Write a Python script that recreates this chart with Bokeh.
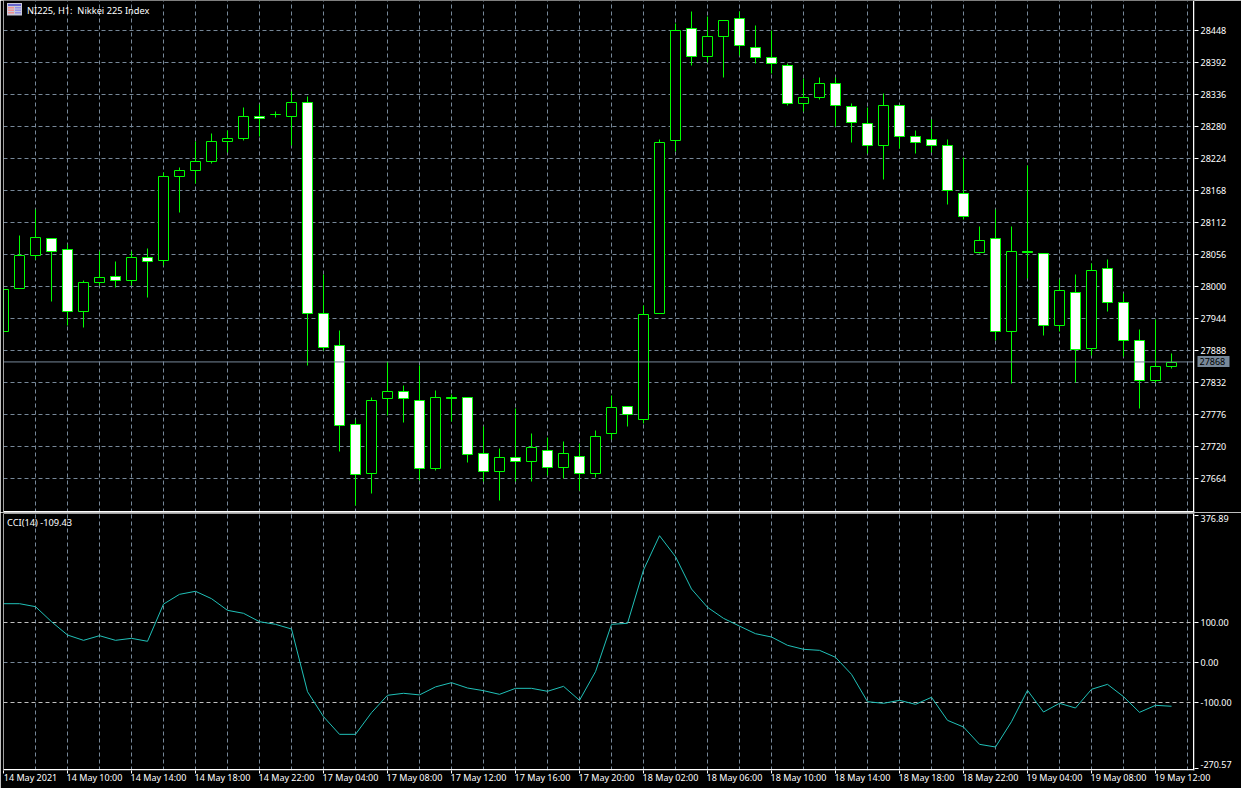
from bokeh.plotting import figure
from bokeh.layouts import column
from bokeh.models import (Range1d, LinearAxis, FixedTicker, Grid, Span, Label,
                          BoxAnnotation, ColumnDataSource)
from bokeh.embed import file_html
from bokeh.resources import INLINE

TITLE = "NI225, H1:\u00a0 Nikkei 225 Index"
CCI_TITLE = "CCI(14) -109.43"
LAST_PRICE = 27868

open_ = [27921.25,27996.5,28054.25,28084,28064.75,27956.25,28007,28017.5,28010.5,28050.75,
         28045.5,28192.5,28203,28218.75,28253.75,28259,28297.5,28301,28297.5,28322,
         27952.75,27896.75,27758.5,27672.75,27804,27816.25,27800.5,27681.5,27805.75,27805.75,
         27707.75,27676.25,27700.75,27693.75,27713,27683.25,27702.5,27672.75,27742.75,27790,
         27767.25,27952.75,28255.5,28451.5,28402.5,28437.5,28469,28418.25,28400.75,28386.75,
         28320.25,28330.75,28355.25,28315,28285.25,28246.75,28316.75,28262.5,28257.25,28246.75,
         28162.75,28059.5,28084,27921.25,28061.25,28057.75,27931.75,27989.5,27891.5,28031.5,
         27972,27905.5,27835.5,27860]
high = [27994.75,28089.25,28134.75,28084,28073.5,28010.5,28061.25,28043.75,28061.25,28066.5,
        28199.5,28208.25,28253.75,28267.75,28273,28313.25,28318.5,28306.25,28341.25,28332.5,
        28021,27923,27767.25,27805.75,27868.75,27826.75,27861.75,27818,27811,27805.75,
        27755,27716.5,27786.5,27742.75,27735.75,27728.75,27725.25,27748,27809.25,27790,
        27966.75,28257.25,28460.25,28481.25,28472.5,28465.5,28481.25,28456.75,28448,28390.25,
        28364,28365.75,28365.75,28320.25,28313.25,28337.75,28316.75,28273,28292.25,28257.25,
        28225.75,28105,28134.75,28105,28211.75,28057.75,28012.25,28021,28040.25,28047.25,
        27987.75,27924.75,27942.25,27882.75]
low = [27921.25,27996.5,28047.25,27973.75,27931.75,27928.25,28001.75,27998.25,28001.75,27980.75,
       28036.75,28129.5,28180.25,28215.25,28234.5,28255.5,28262.5,28295.75,28246.75,27861.75,
       27888,27711.25,27616.75,27637.75,27774.25,27762,27660.5,27678,27763.75,27692,
       27658.75,27625.5,27658.75,27658.75,27669.25,27664,27643,27665.75,27732.25,27755,
       27760.25,27952.75,28236.25,28386.75,28392,28365.75,28404.25,28390.25,28372.75,28316.75,
       28306.25,28327.25,28280,28252,28232.75,28187.25,28241.5,28232.75,28234.5,28143.5,
       28117.25,28057.75,27905.5,27830.25,28014,27914.25,27921.25,27832,27879.25,27956.25,
       27877.5,27786.5,27832,27856.5]
close = [27994.75,28054.25,28085.75,28061.25,27956.25,28007,28015.75,28010.5,28050.75,28043.75,
         28192.5,28203,28218.75,28253.75,28259,28297.5,28294,28301,28322,27952.75,
         27893.25,27756.75,27671,27800.5,27816.25,27804,27681.5,27805.75,27804,27706,
         27676.25,27700.75,27693.75,27718.25,27683.25,27707.75,27672.75,27737.5,27788.25,27776,
         27951,28252,28448,28402.5,28437.5,28465.5,28421.75,28400.75,28390.25,28320.25,
         28330.75,28355.25,28316.75,28287,28246.75,28316.75,28262.5,28252,28246.75,28168,
         28122.5,28080.5,27921.25,28061.25,28059.5,27931.75,27993,27889.75,28028,27972,
         27905.5,27835.5,27860,27867]
cci = [147,147,139.6,102,68.75,55.4,67,55.4,60.4,53,146,170.4,178,159.6,130.4,123,102,95.4,83.75,-73,
       -135.4,-179.6,-179.6,-125.4,-82,-77,-81,-61,-50.4,-63.75,-70.4,-79.6,-64.6,-64.6,-72,-59.6,-94.6,
       -23,95.4,98,231.25,317,264.6,183.75,138,110.4,91,72,63.75,43,33,30.4,13,-29.6,-98,-102,-94.6,
       -104.6,-87,-144.6,-161.25,-204.6,-211.25,-148,-69.6,-123.75,-102,-113.75,-67,-54.6,-85.4,-124.6,-107,-109.43]
price_ticks = [27664,27720,27776,27832,27888,27944,28000,28056,28112,28168,28224,28280,28336,28392,28448]
cci_levels = [100,0,-100]
cci_level_labels = ["100.00","0.00","-100.00"]
cci_end_labels = ["376.89","-270.57"]
time_labels = ["14 May 2021","14 May 10:00","14 May 14:00","14 May 18:00","14 May 22:00",
               "17 May 04:00","17 May 08:00","17 May 12:00","17 May 16:00","17 May 20:00",
               "18 May 02:00","18 May 06:00","18 May 10:00","18 May 14:00","18 May 18:00",
               "18 May 22:00","19 May 04:00","19 May 08:00","19 May 12:00"]

GREEN, WHITE, BLACK, SLATE = "#00FF00", "#FFFFFF", "#000000", "#778899"
CCI_COL, LIGHT = "#20C0B8", "#C0C0C0"
FONT, FS, AFS = "Noto Sans", "9.25px", "9px"
DASH = "4 3"

idx = list(range(len(close)))
xs = lambda px: (px - 3.5) / 16
py1 = lambda px: 27664 + (478.5 - px) * 1.75
py2 = lambda px: (662.5 - px) / 0.4
x_rng = lambda: Range1d(0, 1191 / 16)


def base(height, frame_h, y0, y1, top, bottom):
    f = figure(width=1241, height=height, frame_width=1191, frame_height=frame_h,
               x_range=x_rng(), y_range=Range1d(y0, y1), output_backend="svg",
               toolbar_location=None, x_axis_location=None, y_axis_location=None,
               min_border_left=3, min_border_right=47, min_border_top=top, min_border_bottom=bottom,
               background_fill_color=BLACK, border_fill_color=BLACK, outline_line_color=None)
    f.grid.visible = False
    f.add_layout(Grid(dimension=0, ticker=FixedTicker(ticks=list(range(2, 76, 2))),
                      grid_line_color=SLATE, grid_line_dash=DASH, grid_line_width=1))
    return f


def marks_axis(f, side, ticks, out):
    # tick marks only
    f.add_layout(LinearAxis(ticker=FixedTicker(ticks=ticks), axis_line_color=None,
                            major_tick_line_color=WHITE, major_tick_out=out, major_tick_in=0,
                            minor_tick_line_color=None, major_label_text_font_size="1px",
                            major_label_text_color=BLACK, major_label_standoff=0,
                            major_label_overrides={t: "" for t in ticks}), side)


def labels_axis(f, side, ticks, labels, standoff):
    # texts only
    f.add_layout(LinearAxis(ticker=FixedTicker(ticks=ticks), axis_line_color=None,
                            major_tick_line_color=None, minor_tick_line_color=None,
                            major_tick_out=0, major_tick_in=0,
                            major_label_text_color=WHITE, major_label_text_font=FONT,
                            major_label_text_font_size=AFS, major_label_standoff=standoff,
                            major_label_overrides=dict(zip(ticks, labels))), side)


def frame_lines(f, ytop, ybot, xleft, xright):
    for loc, dim in ((xleft, "height"), (xright, "height"), (ybot, "width")) + (((ytop, "width"),) if ytop is not None else ()):
        f.add_layout(Span(location=loc, dimension=dim, line_color=WHITE, line_width=1))


def text(f, x, y, s, color=WHITE, **kw):
    f.add_layout(Label(x=x, y=y, text=s, text_color=color, text_font=FONT, text_font_size=FS,
                       text_baseline="middle", text_align="left", **kw))


# ---- price panel
p = base(512, 512, py1(512.5), py1(0.5), 0, 0)
marks_axis(p, "right", price_ticks, 4)
labels_axis(p, "right", price_ticks, [str(t) for t in price_ticks], 2)
# last-price badge: a thick inward tick with the price on it
p.add_layout(LinearAxis(ticker=FixedTicker(ticks=[LAST_PRICE]), axis_line_color=None,
                        major_tick_line_color=SLATE, major_tick_line_width=11,
                        major_tick_in=32, major_tick_out=0, minor_tick_line_color=None,
                        major_label_text_color=BLACK, major_label_text_font=FONT,
                        major_label_text_font_size=AFS, major_label_standoff=-30,
                        major_label_overrides={LAST_PRICE: str(LAST_PRICE)}), "right")
p.add_layout(Grid(dimension=1, ticker=FixedTicker(ticks=price_ticks), grid_line_color=SLATE,
                  grid_line_dash=DASH, grid_line_width=1))
p.add_layout(Span(location=LAST_PRICE, dimension="width", line_color=SLATE, line_width=1))
src = ColumnDataSource(dict(
    x=idx, o=open_, h=high, l=low, c=close,
    fill=[WHITE if c < o else BLACK for o, c in zip(open_, close)]))
p.segment("x", "h", "x", "l", source=src, line_color=GREEN, line_width=1)
p.vbar("x", width=0.625, top="o", bottom="c", source=src, fill_color="fill", line_color=GREEN, line_width=1)
frame_lines(p, None, py1(511.5), xs(3.5), xs(1193.5))
text(p, xs(27), py1(10), TITLE)
p.add_layout(BoxAnnotation(left=xs(7), right=xs(22), top=py1(3), bottom=py1(15.5), fill_color="#C8C8D8", fill_alpha=1, line_alpha=0))
p.add_layout(BoxAnnotation(left=xs(8), right=xs(21), top=py1(4), bottom=py1(6), fill_color="#6666CC", fill_alpha=1, line_alpha=0))
for yy in (7, 9.5, 12):
    p.add_layout(BoxAnnotation(left=xs(8), right=xs(14), top=py1(yy), bottom=py1(yy + 1.5), fill_color="#F09090", fill_alpha=1, line_alpha=0))
    p.add_layout(BoxAnnotation(left=xs(15), right=xs(21), top=py1(yy), bottom=py1(yy + 1.5), fill_color="#9090E8", fill_alpha=1, line_alpha=0))

# ---- CCI panel
q = base(276, 257, py2(770.5), py2(513.5), 1, 18)
tick_top, tick_bot = py2(515.5), py2(768.5)
label_top, label_bot = py2(518.5), py2(764)
marks_axis(q, "right", [tick_top] + cci_levels + [tick_bot], 4)
labels_axis(q, "right", [label_top] + cci_levels + [label_bot],
            [cci_end_labels[0]] + cci_level_labels + [cci_end_labels[1]], 2)
q.add_layout(Grid(dimension=1, ticker=FixedTicker(ticks=[100, -100]), grid_line_color=LIGHT,
                  grid_line_dash=DASH, grid_line_width=1))
q.add_layout(Grid(dimension=1, ticker=FixedTicker(ticks=[0]), grid_line_color=SLATE,
                  grid_line_dash=DASH, grid_line_width=1))
q.line(idx, cci, line_color=CCI_COL, line_width=1)
frame_lines(q, py2(513.5), py2(769.5), xs(3.5), xs(1193.5))
text(q, xs(7), py2(522), CCI_TITLE)
xticks = list(range(0, 4 * len(time_labels), 4))
marks_axis(q, "below", xticks, 3)
labels_axis(q, "below", [t + 27 / 16 for t in xticks], time_labels, -3)

page = column(p, q, spacing=0)
open("out.html", "w").write(file_html(page, INLINE))
